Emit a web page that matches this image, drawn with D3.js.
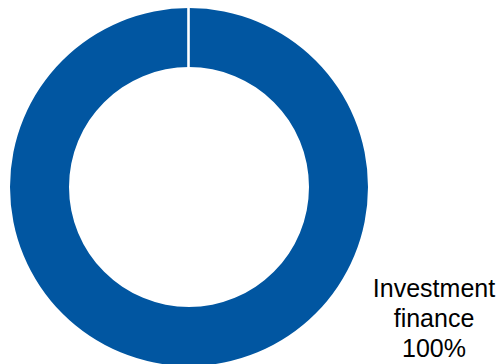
<!DOCTYPE html>
<html>
<head>
<meta charset="utf-8">
<script src="https://cdn.jsdelivr.net/npm/d3@7"></script>
<style>
html,body{margin:0;padding:0;background:#fff;}
svg{display:block;}
</style>
</head>
<body>
<svg id="chart" width="504" height="364"></svg>
<script>
const categories = ["Investment finance"];
const values = [100];
const labels = ["100%"];
const colors = ["#0156a1"];

const svg = d3.select("#chart");
const cx = 189, cy = 187, outerR = 179, innerR = 120;
const g = svg.append("g").attr("transform", `translate(${cx},${cy})`);

const pie = d3.pie().sort(null).value(d => d)(values);
const arc = d3.arc().innerRadius(innerR).outerRadius(outerR);

g.selectAll("path.slice").data(pie).join("path")
  .attr("class", "slice")
  .attr("d", arc)
  .attr("fill", (d, i) => colors[i]);

// slice boundary separators
g.selectAll("line.sep").data(pie).join("line")
  .attr("class", "sep")
  .attr("x1", d => innerR * Math.sin(d.startAngle) - 0.5)
  .attr("y1", d => -innerR * Math.cos(d.startAngle) + 2)
  .attr("x2", d => (outerR + 2) * Math.sin(d.startAngle) - 0.5)
  .attr("y2", d => -(outerR + 2) * Math.cos(d.startAngle))
  .attr("stroke", "#fff")
  .attr("stroke-width", 2.6);

// label
const lab = svg.append("text")
  .attr("x", 434)
  .attr("y", 297)
  .attr("text-anchor", "middle")
  .attr("font-family", "Liberation Sans, Arial, sans-serif")
  .attr("font-size", 25)
  .attr("fill", "#000");
const words = categories[0].split(" ");
words.forEach((w, i) => {
  lab.append("tspan").attr("x", 434).attr("dy", i === 0 ? 0 : 30).text(w);
});
lab.append("tspan").attr("x", 434).attr("dy", 30).text(labels[0]);
</script>
</body>
</html>
